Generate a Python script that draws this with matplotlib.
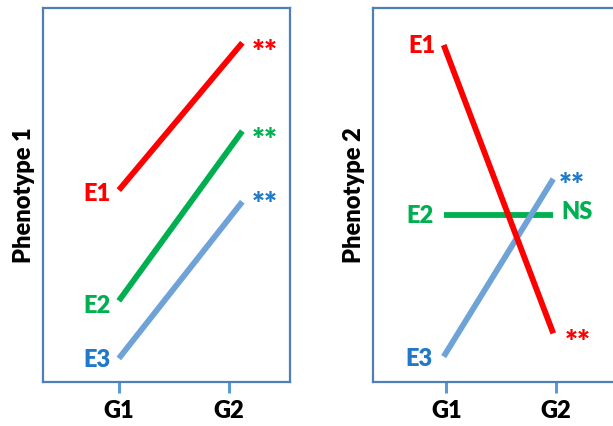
import matplotlib
matplotlib.use("Agg")
import matplotlib.pyplot as plt

# ---- data ----
groups = ["G1", "G2"]
series = ["E1", "E2", "E3"]
pheno1 = {"E1": [51.3, 90.7], "E2": [21.7, 67.1], "E3": [6.3, 48.2]}
pheno2 = {"E1": [90.1, 13.0], "E2": [44.7, 44.7], "E3": [6.8, 54.3]}
sig1 = {"E1": "**", "E2": "**", "E3": "**"}
sig2 = {"E1": "**", "E2": "NS", "E3": "**"}
ylabels = ["Phenotype 1", "Phenotype 2"]

# ---- style ----
line_colors = {"E1": "#ff0000", "E2": "#00b050", "E3": "#6fa3d8"}
text_colors = {"E1": "#ff0000", "E2": "#00b050", "E3": "#1f78c8"}
frame_color = "#4f7fb8"
tick_color = "#5b9bd5"
FONT = ["Lato", "DejaVu Sans"]
W = "heavy"

plt.rcParams["font.family"] = FONT

fig = plt.figure(figsize=(6.13, 4.26), dpi=100)
ax1 = fig.add_axes([43 / 613, 44 / 426, 247 / 613, 374 / 426])
ax2 = fig.add_axes([373 / 613, 44 / 426, 247 / 613, 374 / 426])

panels = [
    (ax1, pheno1, sig1, ylabels[0], (-0.614, 1.386), [0, 0.889],
     {"E1": (-6, -3), "E2": (-6, -4), "E3": (-6, -1)},
     {"E1": (7, -1), "E2": (7, -1), "E3": (7, 4)}),
    (ax2, pheno2, sig2, ylabels[1], (-0.645, 1.609), [0.025, 1.025],
     {"E1": (-6, -1), "E2": (-7, -1), "E3": (-8, -2)},
     {"E1": (8, -1), "E2": (6, 2), "E3": (4, 1)}),
]

for ax, data, sig, ylab, xlim, tickpos, loff, roff in panels:
    xs = [0, 1]
    for s in series:
        ys = data[s]
        ax.plot(xs, ys, color=line_colors[s], lw=4.2, solid_capstyle="butt",
                zorder=3 if s != "E1" else 4)
        ax.annotate(s, xy=(xs[0], ys[0]), xytext=loff[s], textcoords="offset points",
                    ha="right", va="center", color=text_colors[s],
                    fontsize=17, fontweight=W)
        is_star = sig[s] != "NS"
        ax.annotate(sig[s], xy=(xs[1], ys[1]),
                    xytext=(roff[s][0], roff[s][1] - (6 if is_star else 0)),
                    textcoords="offset points",
                    ha="left", va="center", color=text_colors[s],
                    fontsize=22 if is_star else 17, fontweight=W)
    ax.set_xlim(*xlim)
    ax.set_ylim(0, 100)
    ax.set_xticks(tickpos)
    ax.set_xticklabels(groups, fontsize=17, fontweight=W)
    ax.set_yticks([])
    ax.tick_params(axis="x", color=tick_color, width=2.2, length=8, pad=5)
    for sp in ax.spines.values():
        sp.set_color(frame_color)
        sp.set_linewidth(1.6)
    ax.set_ylabel(ylab, fontsize=17, fontweight=W, labelpad=6)

fig.savefig("out.png", dpi=100)
